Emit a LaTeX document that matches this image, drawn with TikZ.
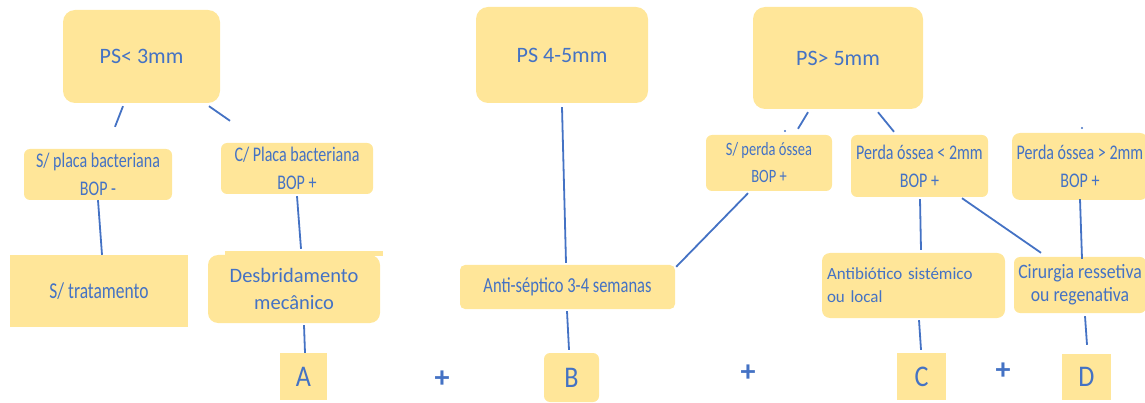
\documentclass[tikz,border=0pt]{standalone}
\usepackage{fontspec}
\setmainfont{Carlito}
\newfontfamily\condensed[FakeStretch=0.77]{Carlito}
\newfontfamily\semicond[FakeStretch=0.87]{Carlito}
\usetikzlibrary{calc}
\definecolor{boxfill}{HTML}{FFE699}
\definecolor{inkblue}{HTML}{4472C4}
\begin{document}
\begin{tikzpicture}[x=1pt,y=-1pt,
  box/.style={fill=boxfill, text=inkblue, inner sep=0pt, align=center, rounded corners=#1},
  box/.default=6pt,
  big/.style={font=\fontsize{22}{26}\selectfont},
  small/.style={font=\condensed\fontsize{20.8}{28}\selectfont},
  letter/.style={font=\semicond\fontsize{30}{34}\selectfont},
  plus/.style={text=inkblue, inner sep=0pt, font=\fontsize{30}{34}\selectfont\bfseries},
  conn/.style={draw=inkblue, line width=1.8pt}
]
\useasboundingbox (0,0) rectangle (1145,403);

% top level: pocket depth
\node[box=12pt, big, minimum width=157pt, minimum height=93pt] (ps3) at (141.5,56.5) {PS< 3mm};
\node[box=12pt, big, minimum width=172pt, minimum height=96pt] (ps45) at (562,55) {PS 4-5mm};
\node[box=12pt, big, minimum width=170pt, minimum height=102pt] (ps5) at (838,58) {PS> 5mm};

% second level: clinical findings
\node[box, small, minimum width=148pt, minimum height=51pt] (splaca) at (98,174.5) {S/ placa bacteriana\\BOP -};
\node[box, small, minimum width=152pt, minimum height=51pt] (cplaca) at (297,168.5) {C/ Placa bacteriana\\BOP +};
\node[box, font=\condensed\fontsize{18.8}{27}\selectfont, minimum width=126pt, minimum height=56pt] (sperda) at (769,163) {S/ perda óssea\\BOP +};
\node[box, small, minimum width=137pt, minimum height=62pt] (perda2) at (919.5,166) {Perda óssea < 2mm\\BOP +};
\node[box=8pt, small, minimum width=136pt, minimum height=67pt] (perda3) at (1080,166.5) {Perda óssea > 2mm\\BOP +};

% third level: treatments
\node[box=0pt, font=\condensed\fontsize{22.7}{26}\selectfont, minimum width=178pt, minimum height=72pt] (strat) at (99,291) {S/ tratamento};
\fill[boxfill] (225,251) rectangle (383,256);
\node[box=10pt, font=\fontsize{20.5}{27}\selectfont, minimum width=172pt, minimum height=68pt] (desb) at (294,289) {Desbridamento\\mecânico};
\node[box=5pt, font=\condensed\fontsize{21.4}{24}\selectfont, minimum width=215pt, minimum height=44pt] (anti) at (567.5,287) {Anti-séptico 3-4 semanas};
\node[box=8pt, font=\fontsize{17}{23}\selectfont, align=left, text width=173pt, inner xsep=5pt, minimum height=65pt] (antib) at (913.5,285.5) {Antibiótico sistémico\\ou local};
\node[box=6pt, font=\semicond\fontsize{20.4}{23}\selectfont, minimum width=132pt, minimum height=56pt] (cir) at (1080,285) {Cirurgia ressetiva\\ou regenativa};

% bottom row
\node[box=0pt, letter, minimum width=47pt, minimum height=47pt] (A) at (303.5,376.5) {A};
\node[box=6pt, letter, minimum width=55pt, minimum height=49pt] (B) at (571.5,377.5) {B};
\node[box=0pt, letter, minimum width=49pt, minimum height=47pt] (C) at (921.5,376.5) {C};
\node[box=0pt, letter, minimum width=49pt, minimum height=46pt] (D) at (1086.5,377) {D};
\node[plus] (p1) at (442,379) {+};
\node[plus] (p2) at (748,373) {+};
\node[plus] (p3) at (1003,371) {+};

% connectors
\draw[conn] ($(ps3.south)+(-18.5,3)$) -- ($(splaca.north)+(17,-22)$);
\draw[conn] ($(ps3.south)+(67.5,3)$) -- ($(cplaca.north)+(-67,-22)$);
\draw[conn] (splaca.south) -- ($(strat.north)+(3,0)$);
\draw[conn] ($(cplaca.south)+(0,2)$) -- ($(desb.north)+(7,-6)$);
\draw[conn] ($(desb.south)+(10,2)$) -- ($(A.north)+(1.5,0)$);
\draw[conn] ($(ps45.south)+(0,4)$) -- ($(anti.north)+(-1.5,-2)$);
\draw[conn] ($(anti.north east)+(1,2)$) -- ($(sperda.south)+(-21,2)$);
\draw[conn] ($(anti.south)+(-0.5,2)$) -- ($(B.north)+(-2.5,-3)$);
\draw[conn] ($(ps5.south)+(-30,3)$) -- ($(sperda.north)+(29,-6)$);
\draw[conn] ($(ps5.south)+(40,3)$) -- ($(perda2.north)+(-25.5,-3)$);
\draw[conn] ($(perda2.south)+(0.5,2)$) -- ($(antib.north)+(7.5,-3)$);
\draw[conn] ($(perda2.south)+(42.5,1)$) -- ($(cir.north)+(-39,-4)$);
\draw[conn] ($(perda3.south)+(0,-1)$) -- ($(cir.north)+(2,2)$);
\draw[conn] ($(antib.south)+(5.5,2)$) -- ($(C.north)+(-0.5,-3)$);
\draw[conn] ($(cir.south)+(5,3)$) -- ($(D.north)+(0.5,-9)$);

% small marks above the boxes
\fill[inkblue] (785,131) circle (1.1pt);
\fill[inkblue] (1082,128) circle (1.1pt);
\end{tikzpicture}
\end{document}
